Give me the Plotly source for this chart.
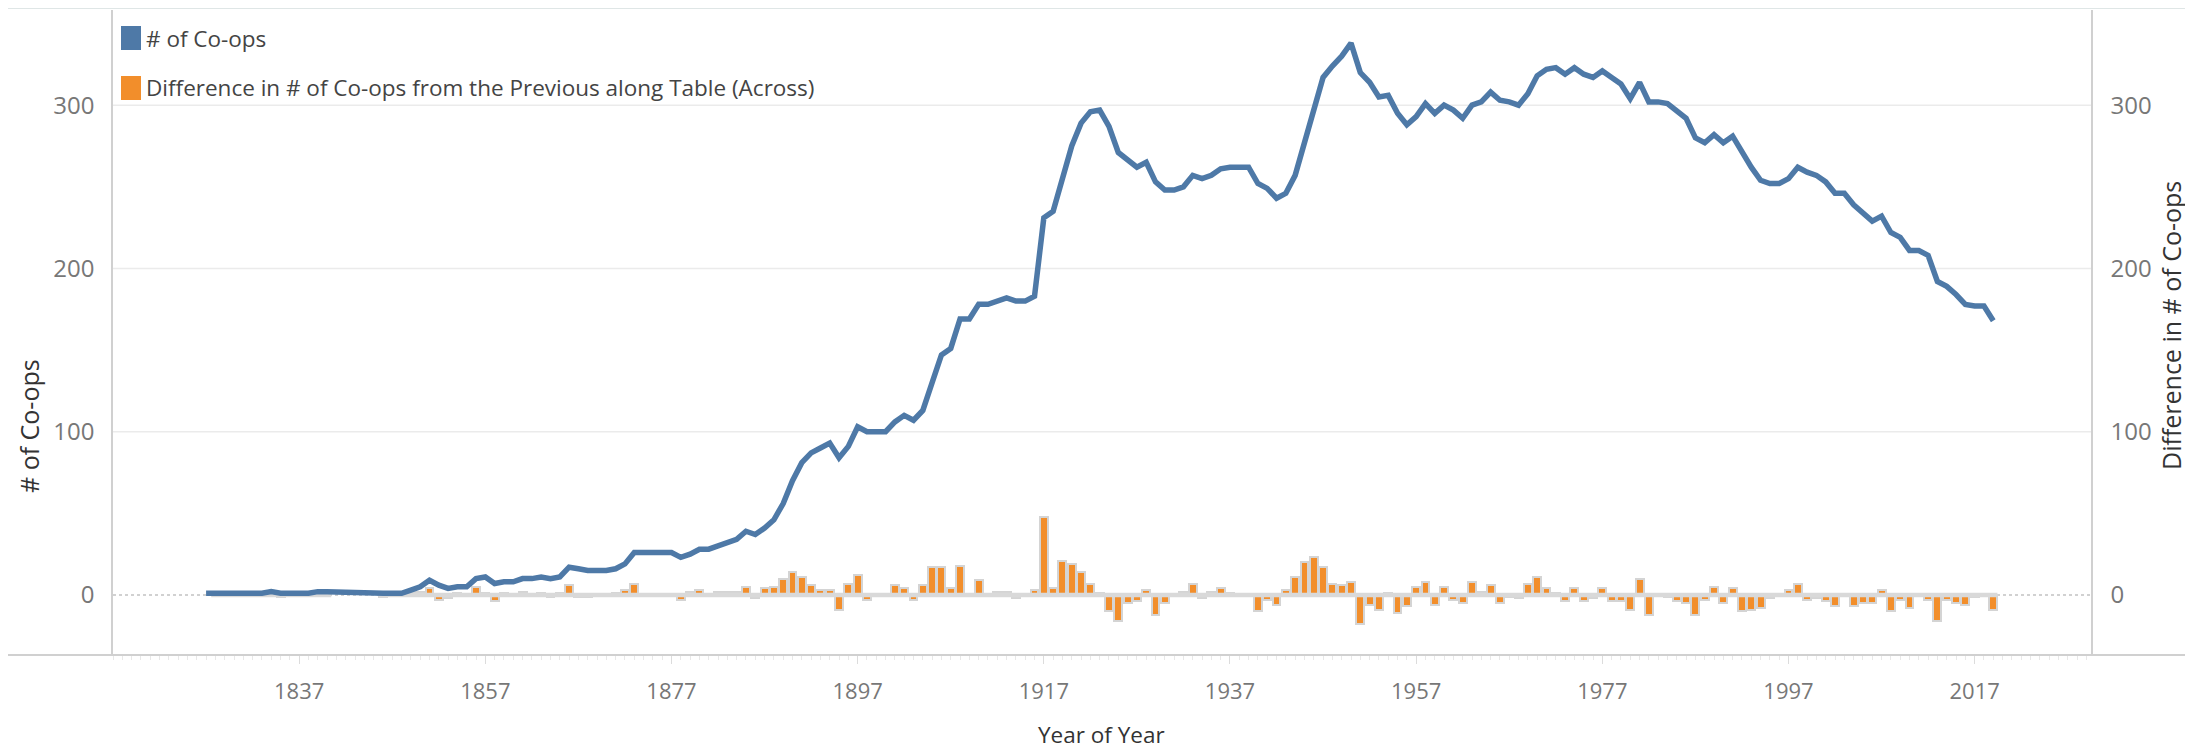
import plotly.graph_objects as go

# ---------------- data ----------------
years = list(range(1827, 1841)) + list(range(1846, 2020))

coops_1827_1840 = [1, 1, 1, 1, 1, 1, 1, 2, 1, 1, 1, 1, 2, 2]
coops_1846_1849 = [1, 1, 1, 3]
coops_1850s = [5, 9, 6, 4, 5, 5, 10, 11, 7, 8]
coops_1860s = [8, 10, 10, 11, 10, 11, 17, 16, 15, 15]
coops_1870s = [15, 16, 19, 26, 26, 26, 26, 26, 23, 25]
coops_1880s = [28, 28, 30, 32, 34, 39, 37, 41, 46, 56]
coops_1890s = [70, 81, 87, 90, 93, 84, 91, 103, 100, 100]
coops_1900s = [100, 106, 110, 107, 113, 130, 147, 151, 169, 169]
coops_1910s = [178, 178, 180, 182, 180, 180, 183, 231, 235, 256]
coops_1920s = [275, 289, 296, 297, 287, 271, 266, 262, 265, 253]
coops_1930s = [248, 248, 250, 257, 255, 257, 261, 262, 262, 262]
coops_1940s = [252, 249, 243, 246, 257, 277, 300, 317, 324, 330]
coops_1950s = [338, 320, 314, 305, 306, 295, 288, 293, 301, 295]
coops_1960s = [300, 297, 292, 300, 302, 308, 303, 302, 300, 307]
coops_1970s = [318, 322, 323, 319, 323, 319, 317, 321, 317, 313]
coops_1980s = [304, 314, 302, 302, 301, 297, 292, 280, 277, 282]
coops_1990s = [277, 281, 271, 262, 254, 252, 252, 255, 262, 259]
coops_2000s = [257, 253, 246, 246, 239, 234, 229, 232, 222, 219]
coops_2010s = [211, 211, 208, 192, 189, 184, 178, 177, 177, 168]

coops = (coops_1827_1840 + coops_1846_1849 + coops_1850s + coops_1860s
         + coops_1870s + coops_1880s + coops_1890s + coops_1900s
         + coops_1910s + coops_1920s + coops_1930s + coops_1940s
         + coops_1950s + coops_1960s + coops_1970s + coops_1980s
         + coops_1990s + coops_2000s + coops_2010s)

# Tableau table calculation: difference from the previous mark along the table
diff = [None] + [b - a for a, b in zip(coops[:-1], coops[1:])]

x_ticks = [1837, 1857, 1877, 1897, 1917, 1937, 1957, 1977, 1997, 2017]
y_ticks = [0, 100, 200, 300]

legend_labels = ["# of Co-ops",
                 "Difference in # of Co-ops from the Previous along Table (Across)"]

BLUE = "#4e79a7"
ORANGE = "#f28e2b"
FONT = "Open Sans"

# ---------------- zero "band" under the bars (years that exist) ----------------
band_x, band_y = [], []
seg_start = years[1]
for i in range(1, len(years)):
    last = (i == len(years) - 1) or (years[i + 1] != years[i] + 1)
    if last:
        band_x += [seg_start - 0.45, years[i] + 0.45, None]
        band_y += [0, 0, None]
        if i < len(years) - 1:
            seg_start = years[i + 1]

fig = go.Figure()

fig.add_trace(go.Scatter(
    x=band_x, y=band_y, mode="lines",
    line=dict(color="#d9d9d9", width=4.5),
    hoverinfo="skip", showlegend=False, yaxis="y"))

fig.add_trace(go.Bar(
    x=years, y=diff, width=0.85,
    marker=dict(color=ORANGE, line=dict(color="#d4d4d4", width=2)),
    name=legend_labels[1], showlegend=False, yaxis="y"))

fig.add_trace(go.Scatter(
    x=years, y=coops, mode="lines",
    line=dict(color=BLUE, width=5.5),
    name=legend_labels[0], showlegend=False, yaxis="y2"))

y_range = [-36.8, 358.3]

shapes = []
for v in y_ticks[1:]:
    shapes.append(dict(type="line", xref="paper", yref="y", x0=0, x1=1, y0=v, y1=v,
                       line=dict(color="#ebebeb", width=1.5), layer="below"))
shapes.append(dict(type="line", xref="paper", yref="y", x0=0, x1=1, y0=0, y1=0,
                   line=dict(color="#c2c2c2", width=1.5, dash="dot"), layer="below"))
# bottom axis rule across the whole width
shapes.append(dict(type="line", xref="paper", yref="paper", x0=-0.06, x1=1.06, y0=0, y1=0,
                   line=dict(color="#d0d0d0", width=2)))
# top border
shapes.append(dict(type="line", xref="paper", yref="paper", x0=-0.06, x1=1.06, y0=1.003, y1=1.003,
                   line=dict(color="#dfe6e6", width=2)))

W, H = 2193, 746
L, R, T, B = 105, 110, 2, 99
pw, ph = W - L - R, H - T - B


def px_x(px):
    return (px - L) / pw


def px_y(px):
    return (H - B - px) / ph


legend_colors = [BLUE, ORANGE]
legend_centers = [30, 80]
annotations = []
for col, cy, lab in zip(legend_colors, legend_centers, legend_labels):
    shapes.append(dict(type="rect", xref="paper", yref="paper",
                       x0=px_x(113), x1=px_x(133), y0=px_y(cy + 12), y1=px_y(cy - 12),
                       fillcolor=col, line=dict(color=col, width=0)))
    annotations.append(dict(text=lab, xref="paper", yref="paper", x=px_x(136), y=px_y(cy),
                            xanchor="left", yanchor="middle", showarrow=False,
                            font=dict(family=FONT, size=22.5, color="#444")))

annotations.append(dict(text="# of Co-ops", xref="paper", yref="paper",
                        x=px_x(21), y=px_y(418), textangle=-90, showarrow=False,
                        xanchor="center", yanchor="middle",
                        font=dict(family=FONT, size=25, color="#333")))
annotations.append(dict(text="Difference in # of Co-ops", xref="paper", yref="paper",
                        x=px_x(2163), y=px_y(318), textangle=-90, showarrow=False,
                        xanchor="center", yanchor="middle",
                        font=dict(family=FONT, size=25, color="#333")))
annotations.append(dict(text="Year of Year", xref="paper", yref="paper",
                        x=px_x(1093), y=px_y(726), showarrow=False,
                        xanchor="center", yanchor="middle",
                        font=dict(family=FONT, size=22.5, color="#333")))

fig.update_layout(
    width=W, height=H,
    margin=dict(l=L, r=R, t=T, b=B, autoexpand=False),
    paper_bgcolor="white", plot_bgcolor="white",
    showlegend=False, bargap=0,
    shapes=shapes, annotations=annotations,
    xaxis=dict(range=[1817.0, 2029.5], tickmode="array", tickvals=x_ticks,
               ticktext=[str(t) for t in x_ticks],
               showgrid=False, zeroline=False, showline=False,
               ticks="outside", ticklen=8, tickcolor="#dcdcdc", tickwidth=1,
               ticklabelstandoff=9,
               minor=dict(ticks="outside", ticklen=4, tickcolor="#e8e8e8", dtick=1, tick0=1837),
               tickfont=dict(family=FONT, size=22, color="#777")),
    yaxis=dict(range=y_range, tickmode="array", tickvals=y_ticks,
               showgrid=False, zeroline=False, showline=True, linecolor="#d0d0d0",
               linewidth=1.5, ticks="", ticklabelstandoff=12,
               tickfont=dict(family=FONT, size=24, color="#777")),
    yaxis2=dict(range=y_range, tickmode="array", tickvals=y_ticks, overlaying="y",
                side="right", showgrid=False, zeroline=False, showline=True,
                linecolor="#d0d0d0", linewidth=1.5, ticks="", ticklabelstandoff=13,
                tickfont=dict(family=FONT, size=24, color="#777")),
)

fig.write_html("out.html")
